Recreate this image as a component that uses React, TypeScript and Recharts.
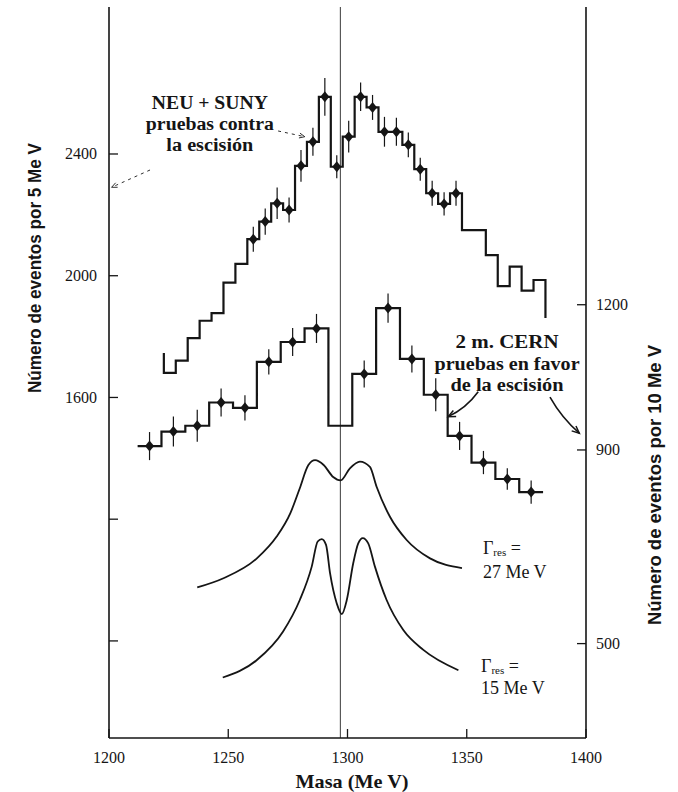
import React from 'react'
import { ComposedChart, Line, Scatter, XAxis, YAxis, ReferenceLine, ErrorBar } from 'recharts'

const massTicks = [1200, 1250, 1300, 1350, 1400]
const leftTicks = [800, 1200, 1600, 2000, 2400]
const leftLabelled = [1600, 2000, 2400]
const rightTicks = [500, 900, 1200]
const splitMass = 1297

// NEU + SUNY, eventos por 5 MeV (eje izquierdo)
const neuEdges = [
  1223, 1228, 1233, 1238, 1243, 1248, 1253, 1258, 1263, 1268, 1273, 1278, 1283, 1288, 1293, 1298, 1303,
  1308, 1313, 1318, 1323, 1328, 1333, 1338, 1343, 1348, 1353, 1358, 1363, 1368, 1373, 1378, 1383,
]
const neuCounts = [
  1681, 1721, 1795, 1852, 1877, 1977, 2039, 2120, 2178, 2238, 2216, 2361, 2440, 2588, 2358, 2457, 2588,
  2553, 2473, 2473, 2430, 2350, 2271, 2236, 2271, 2150, 2150, 2068, 1966, 2030, 1951, 1986,
]
const neuErrors = [
  null, null, null, null, null, null, null, 41, 43, 52, 41, 52, 46, 62, 38, 52, 47,
  41, 49, 46, 41, 38, 41, 38, 41, null, null, null, null, null, null, null,
]
const neuStartStub = 1746
const neuEndStub = 1861

// 2 m. CERN, eventos por 10 MeV (eje derecho)
const cernEdges = [1212, 1222, 1232, 1242, 1252, 1262, 1272, 1282, 1292, 1302, 1312, 1322, 1332, 1342, 1352, 1362, 1372, 1382]
const cernCounts = [908, 938, 950, 998, 987, 1082, 1123, 1151, 950, 1057, 1193, 1088, 1014, 929, 874, 840, 813]
const cernErrors = [29, 31, 33, 29, 26, 26, 29, 30, null, 28, 30, 28, 34, 29, 24, 22, 24]

// curvas teoricas (eje derecho)
const g27Mass = [1237, 1248, 1262, 1270.3, 1276, 1280, 1283.6, 1286.4, 1290, 1294, 1297.1, 1301, 1305.2, 1309.4, 1312.2, 1317.8, 1324.8, 1334.6, 1348]
const g27Value = [616, 635, 676, 721, 769, 821, 869, 879, 869, 844, 837, 862, 876, 865, 824, 762, 714, 676, 656]
const g15Mass = [1247.7, 1262, 1273, 1280, 1285, 1287.5, 1289.2, 1291, 1292.7, 1295.5, 1297.6, 1299.7, 1302.4, 1304.5, 1306.4, 1308.7, 1311.5, 1316.4, 1323.4, 1331.8, 1346.5]
const g15Value = [430, 466, 525, 590, 659, 711, 716, 704, 645, 583, 561, 590, 666, 707, 718, 707, 659, 590, 528, 487, 445]

const ink = '#151515'
const serif = "'Liberation Serif', 'Times New Roman', serif"
const sans = "'Liberation Sans', Arial, sans-serif"

function stepData(edges: number[], counts: number[], startStub?: number, endStub?: number) {
  const pts: { x: number; y: number }[] = []
  if (startStub != null) pts.push({ x: edges[0], y: startStub })
  counts.forEach((c, i) => pts.push({ x: edges[i], y: c }))
  pts.push({ x: edges[edges.length - 1], y: counts[counts.length - 1] })
  if (endStub != null) pts.push({ x: edges[edges.length - 1], y: endStub })
  return pts
}

function pointData(edges: number[], counts: number[], errors: (number | null)[]) {
  return counts
    .map((c, i) => ({ x: (edges[i] + edges[i + 1]) / 2, y: c, err: errors[i] }))
    .filter((p) => p.err != null)
}

const neuLine = stepData(neuEdges, neuCounts, neuStartStub, neuEndStub)
const neuPoints = pointData(neuEdges, neuCounts, neuErrors)
const cernLine = stepData(cernEdges, cernCounts)
const cernPoints = pointData(cernEdges, cernCounts, cernErrors)
const g27 = g27Mass.map((x, i) => ({ x, y: g27Value[i] }))
const g15 = g15Mass.map((x, i) => ({ x, y: g15Value[i] }))

// anclas de los textos (unidades del eje izquierdo)
const notes = [
  { id: 'neu', x: 1242.3, y: 2568 },
  { id: 'cern', x: 1366.9, y: 1782 },
  { id: 'g27', x: 1356.8, y: 1106 },
  { id: 'g15', x: 1356, y: 718 },
]

// eslint-disable-next-line @typescript-eslint/no-explicit-any
function Diamond({ cx, cy }: any) {
  if (cx == null || cy == null) return null
  return <polygon points={`${cx},${cy - 5.5} ${cx + 4.5},${cy} ${cx},${cy + 5.5} ${cx - 4.5},${cy}`} fill={ink} />
}

function BoldLines({ x, y, lines, gaps }: { x: number; y: number; lines: [string, number][]; gaps: number[] }) {
  return (
    <g>
      {lines.map(([t, w], i) => (
        <text key={t} x={x} y={y + gaps[i]} textAnchor="middle" dominantBaseline="central" fontFamily={serif}
          fontWeight="bold" fontSize={18} fill={ink} textLength={w} lengthAdjust="spacingAndGlyphs">{t}</text>
      ))}
    </g>
  )
}

function Gamma({ x, y, width, gap }: { x: number; y: number; width: string; gap: number }) {
  return (
    <g fontFamily={serif} fontSize={18} fill={ink}>
      <text x={x} y={y} dominantBaseline="central">
        Γ<tspan fontSize={11} dy={4}>res</tspan><tspan dy={-4}> =</tspan>
      </text>
      <text x={x} y={y + gap} dominantBaseline="central">{width}</text>
    </g>
  )
}

// eslint-disable-next-line @typescript-eslint/no-explicit-any
function Note({ cx, cy, payload }: any) {
  if (cx == null || cy == null) return null
  switch (payload.id) {
    case 'neu':
      return <BoldLines x={cx} y={cy} lines={[['NEU + SUNY', 116], ['pruebas contra', 128], ['la escisión', 87]]} gaps={[0, 21, 42]} />
    case 'cern':
      return <BoldLines x={cx} y={cy} lines={[['2 m. CERN', 103], ['pruebas en favor', 145], ['de la escisión', 113]]} gaps={[0, 22, 43]} />
    case 'g27':
      return <Gamma x={cx} y={cy} width="27 Me V" gap={24} />
    default:
      return <Gamma x={cx} y={cy} width="15 Me V" gap={22} />
  }
}

function arrow(bend: number, dashed: boolean) {
  // eslint-disable-next-line @typescript-eslint/no-explicit-any
  return (p: any) => {
    const { x1, y1, x2, y2 } = p
    const dx = x2 - x1
    const dy = y2 - y1
    const len = Math.hypot(dx, dy) || 1
    const qx = (x1 + x2) / 2 - (dy / len) * bend
    const qy = (y1 + y2) / 2 + (dx / len) * bend
    const ang = Math.atan2(y2 - qy, x2 - qx)
    const h = dashed ? 6 : 8
    const a1 = ang + Math.PI - 0.42
    const a2 = ang + Math.PI + 0.42
    return (
      <g>
        <path d={`M${x1},${y1} Q${qx},${qy} ${x2},${y2}`} fill="none" stroke={ink}
          strokeWidth={dashed ? 0.9 : 1.6} strokeDasharray={dashed ? '3 4' : undefined} />
        <path d={`M${x2 + h * Math.cos(a1)},${y2 + h * Math.sin(a1)} L${x2},${y2} L${x2 + h * Math.cos(a2)},${y2 + h * Math.sin(a2)}`}
          fill="none" stroke={ink} strokeWidth={dashed ? 0.9 : 1.5} />
      </g>
    )
  }
}

// marcas hacia dentro del marco, como en el original
const TICK_IN = 9
function makeTick(side: 'left' | 'right' | 'bottom', margin: number, show?: (v: number) => boolean) {
  // eslint-disable-next-line @typescript-eslint/no-explicit-any
  return (p: any) => {
    const { x, y, payload } = p
    const v = payload.value as number
    const label = !show || show(v) ? String(v) : ''
    if (side === 'left') {
      const ax = x + margin
      return (
        <g>
          <line x1={ax} y1={y} x2={ax + TICK_IN} y2={y} stroke={ink} strokeWidth={1.3} />
          <text x={x} y={y} textAnchor="end" dominantBaseline="central" fontFamily={serif} fontSize={16} fill={ink}>{label}</text>
        </g>
      )
    }
    if (side === 'right') {
      const ax = x - margin
      return (
        <g>
          <line x1={ax} y1={y} x2={ax - TICK_IN} y2={y} stroke={ink} strokeWidth={1.3} />
          <text x={x} y={y} textAnchor="start" dominantBaseline="central" fontFamily={serif} fontSize={16} fill={ink}>{label}</text>
        </g>
      )
    }
    const ay = y - margin
    return (
      <g>
        <line x1={x} y1={ay} x2={x} y2={ay - TICK_IN} stroke={ink} strokeWidth={1.3} />
        <text x={x} y={y + 14} textAnchor="middle" fontFamily={serif} fontSize={16} fill={ink}>{label}</text>
      </g>
    )
  }
}

function LeftTitle() {
  return (
    <text transform="translate(35,268) rotate(-90)" textAnchor="middle" dominantBaseline="central" fontFamily={sans}
      fontWeight="bold" fontSize={18} fill={ink} textLength={250} lengthAdjust="spacingAndGlyphs">
      Número de eventos por 5 Me V
    </text>
  )
}

function RightTitle() {
  return (
    <text transform="translate(655,485) rotate(-90)" textAnchor="middle" dominantBaseline="central" fontFamily={sans}
      fontWeight="bold" fontSize={18} fill={ink} textLength={280} lengthAdjust="spacingAndGlyphs">
      Número de eventos por 10 Me V
    </text>
  )
}

function BottomTitle() {
  return (
    <text x={352} y={781} textAnchor="middle" dominantBaseline="central" fontFamily={serif} fontWeight="bold"
      fontSize={19} fill={ink} textLength={113} lengthAdjust="spacingAndGlyphs">
      Masa (Me V)
    </text>
  )
}

const axisStroke = { stroke: ink, strokeWidth: 1.6 }

export default function App() {
  return (
    <div style={{ position: 'absolute', left: 0, top: 0, width: 678, height: 792, background: '#fff' }}>
      <ComposedChart width={678} height={792} margin={{ top: 7, right: 0, bottom: 0, left: 0 }}>
        <XAxis dataKey="x" type="number" domain={[1200, 1400]} ticks={massTicks} allowDataOverflow
          height={54} tick={makeTick('bottom', 11)} tickSize={0} tickMargin={11} tickLine={false}
          axisLine={axisStroke} label={<BottomTitle />} />
        <XAxis xAxisId="top" orientation="top" type="number" domain={[1200, 1400]} height={0}
          tick={false} tickLine={false} axisLine={{ stroke: ink, strokeWidth: 1.2 }} />
        <YAxis yAxisId="left" type="number" domain={[481, 2883]} ticks={leftTicks} allowDataOverflow width={109}
          tick={makeTick('left', 12, (v) => leftLabelled.includes(v))} tickSize={0} tickMargin={12} tickLine={false}
          axisLine={axisStroke} label={<LeftTitle />} />
        <YAxis yAxisId="right" orientation="right" type="number" domain={[305, 1815]} ticks={rightTicks}
          allowDataOverflow width={92} tick={makeTick('right', 10)} tickSize={0} tickMargin={10} tickLine={false}
          axisLine={axisStroke} label={<RightTitle />} />

        <ReferenceLine x={splitMass} yAxisId="left" stroke="#3a3a3a" strokeWidth={1} />

        <Line yAxisId="left" data={neuLine} dataKey="y" type="stepAfter" stroke={ink} strokeWidth={2.2}
          dot={false} activeDot={false} isAnimationActive={false} />
        <Line yAxisId="right" data={cernLine} dataKey="y" type="stepAfter" stroke={ink} strokeWidth={2.2}
          dot={false} activeDot={false} isAnimationActive={false} />
        <Line yAxisId="right" data={g27} dataKey="y" type="monotone" stroke={ink} strokeWidth={1.8}
          dot={false} activeDot={false} isAnimationActive={false} />
        <Line yAxisId="right" data={g15} dataKey="y" type="monotone" stroke={ink} strokeWidth={1.8}
          dot={false} activeDot={false} isAnimationActive={false} />

        <Scatter yAxisId="left" data={neuPoints} dataKey="y" shape={<Diamond />} isAnimationActive={false}>
          <ErrorBar dataKey="err" direction="y" width={0} stroke={ink} strokeWidth={1.2} />
        </Scatter>
        <Scatter yAxisId="right" data={cernPoints} dataKey="y" shape={<Diamond />} isAnimationActive={false}>
          <ErrorBar dataKey="err" direction="y" width={0} stroke={ink} strokeWidth={1.2} />
        </Scatter>
        <Scatter yAxisId="left" data={notes} dataKey="y" shape={<Note />} isAnimationActive={false} />

        <ReferenceLine yAxisId="left" segment={[{ x: 1270.9, y: 2475.6 }, { x: 1282.1, y: 2456.8 }]} shape={arrow(0, true)} />
        <ReferenceLine yAxisId="left" segment={[{ x: 1217.2, y: 2347.4 }, { x: 1201.1, y: 2290.6 }]} shape={arrow(0, true)} />
        <ReferenceLine yAxisId="left" segment={[{ x: 1354.8, y: 1619 }, { x: 1342.2, y: 1537 }]} shape={arrow(-5, false)} />
        <ReferenceLine yAxisId="left" segment={[{ x: 1384.9, y: 1601 }, { x: 1397.2, y: 1482.5 }]} shape={arrow(4, false)} />
      </ComposedChart>
    </div>
  )
}
